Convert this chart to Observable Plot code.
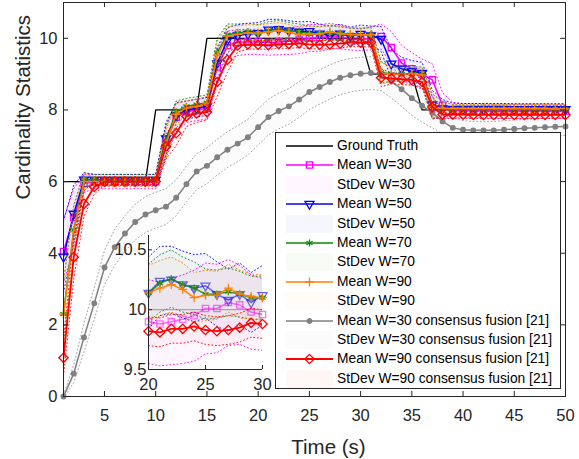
<!DOCTYPE html>
<html><head><meta charset="utf-8">
<script src="https://cdn.jsdelivr.net/npm/d3@7"></script>
<script src="https://cdn.jsdelivr.net/npm/@observablehq/plot@0.6"></script>
<style>
body{margin:0;background:#fff;}
#wrap{position:relative;width:579px;height:459px;font-family:"Liberation Sans",Arial,Helvetica,sans-serif;overflow:hidden;}
#wrap > *{position:absolute;}
</style></head><body><div id="wrap"></div>
<script>
// ---------------- data ----------------
const time = [1,2,3,4,5,6,7,8,9,10,11,12,13,14,15,16,17,18,19,20,21,22,23,24,25,26,27,28,29,30,31,32,33,34,35,36,37,38,39,40,41,42,43,44,45,46,47,48,49,50];
const groundTruth = [6,6,6,6,6,6,6,6,6,8,8,8,8,8,10,10,10,10,10,10,10,10,10,10,10,10,10,10,10,10,9,9,9,9,9,8,8,8,8,8,8,8,8,8,8,8,8,8,8,8];
const meanW30 = [4.05,5.0,5.95,6.0,6.0,6.0,6.0,6.0,6.0,6.0, 7.1,7.8,7.95,8.0,8.05,9.2,9.8,9.88,9.9,9.9, 9.88,9.9,9.92,9.95,10.01,10.01,10.06,10.04,9.98,9.96, 10.0,10.05,9.74,9.31,9.15,9.0,8.84,8.13,7.99,7.98, 7.98,7.98,7.97,7.97,7.97,7.97,7.97,7.97,7.97,7.97];
const stdW30 = [0.9,0.8,0.25,0.2,0.2,0.2,0.2,0.2,0.2,0.2, 0.45,0.4,0.3,0.3,0.3,0.5,0.4,0.36,0.35,0.35, 0.35,0.36,0.37,0.38,0.38,0.37,0.36,0.33,0.31,0.3, 0.32,0.35,0.45,0.5,0.45,0.42,0.45,0.35,0.22,0.2, 0.2,0.2,0.2,0.2,0.2,0.2,0.2,0.2,0.2,0.2];
const meanW50 = [3.9,5.1,6.05,6.05,6.05,6.05,6.05,6.05,6.05,6.05, 7.2,7.85,8.0,8.05,8.1,9.3,9.95,10.08,10.12,10.14, 10.24,10.25,10.21,10.18,10.2,10.13,10.08,10.13,10.06,10.12, 10.08,9.98,9.29,9.15,9.08,9.03,8.15,8.04,8.03,8.03, 8.03,8.03,8.03,8.03,8.02,8.02,8.02,8.02,8.02,8.02];
const stdW50 = [1.0,0.8,0.2,0.15,0.15,0.15,0.15,0.15,0.15,0.15, 0.45,0.35,0.25,0.25,0.25,0.45,0.35,0.3,0.3,0.3, 0.29,0.28,0.28,0.28,0.27,0.27,0.26,0.26,0.25,0.25, 0.26,0.35,0.4,0.32,0.3,0.3,0.4,0.25,0.16,0.15, 0.15,0.15,0.15,0.15,0.15,0.15,0.15,0.15,0.15,0.15];
const meanW70 = [2.3,4.65,6.05,6.05,6.05,6.05,6.05,6.05,6.05,6.05, 7.15,7.95,8.1,8.15,8.2,9.6,10.1,10.15,10.18,10.14, 10.22,10.26,10.21,10.18,10.13,10.13,10.15,10.13,10.1,10.1, 10.1,9.05,9.0,9.0,9.0,9.0,8.1,8.03,8.02,8.02, 8.02,8.02,8.02,8.02,8.02,8.02,8.01,8.01,8.01,8.01];
const stdW70 = [0.9,0.7,0.2,0.15,0.15,0.15,0.15,0.15,0.15,0.15, 0.4,0.3,0.22,0.22,0.22,0.4,0.3,0.25,0.24,0.24, 0.24,0.24,0.23,0.22,0.21,0.2,0.2,0.19,0.18,0.18, 0.2,0.3,0.2,0.2,0.2,0.2,0.35,0.2,0.13,0.12, 0.12,0.12,0.12,0.12,0.12,0.12,0.12,0.12,0.12,0.12];
const meanW90 = [2.3,4.6,6.0,6.0,6.0,6.0,6.0,6.0,6.0,6.0, 7.05,7.88,8.06,8.1,8.18,9.52,10.06,10.11,10.15,10.14, 10.18,10.21,10.17,10.1,10.12,10.12,10.18,10.13,10.11,10.1, 10.1,9.02,9.0,9.0,9.0,8.98,8.1,8.04,8.04,8.04, 8.04,8.04,8.04,8.04,8.04,8.04,8.04,8.04,8.03,8.03];
const stdW90 = [0.9,0.7,0.2,0.14,0.14,0.14,0.14,0.14,0.14,0.14, 0.4,0.3,0.2,0.2,0.2,0.4,0.28,0.24,0.23,0.23, 0.23,0.23,0.22,0.21,0.21,0.2,0.2,0.2,0.19,0.19, 0.2,0.3,0.2,0.18,0.18,0.18,0.35,0.18,0.12,0.12, 0.12,0.12,0.12,0.12,0.12,0.12,0.12,0.12,0.12,0.12];
const meanC30 = [0,0.64,1.65,2.6,3.6,4.17,4.55,4.87,5.08,5.2, 5.3,5.55,5.93,6.28,6.44,6.68,6.89,7.06,7.24,7.52, 7.8,7.97,8.1,8.29,8.5,8.64,8.78,8.9,8.97,9.01, 9.03,9.0,8.8,8.58,8.33,8.12,7.92,7.68,7.5,7.45, 7.43,7.43,7.43,7.45,7.47,7.49,7.5,7.52,7.53,7.54];
const stdC30 = [0.05,0.25,0.4,0.45,0.48,0.5,0.5,0.5,0.5,0.5, 0.5,0.5,0.5,0.5,0.5,0.5,0.5,0.5,0.5,0.5, 0.5,0.5,0.5,0.5,0.49,0.48,0.48,0.47,0.47,0.46, 0.46,0.46,0.47,0.48,0.48,0.46,0.42,0.35,0.28,0.25, 0.25,0.25,0.25,0.25,0.25,0.25,0.25,0.25,0.25,0.25];
const meanC90 = [1.08,3.89,5.38,5.85,6.0,6.0,6.0,6.0,6.0,6.0, 6.98,7.35,7.82,7.9,7.94,8.78,9.4,9.8,9.83,9.82, 9.81,9.84,9.84,9.86,9.83,9.82,9.83,9.85,9.89,9.88, 9.88,8.9,8.88,8.86,8.84,8.78,8.08,7.87,7.87,7.87, 7.86,7.86,7.86,7.86,7.86,7.86,7.86,7.86,7.86,7.86];
const stdC90 = [0.5,0.6,0.35,0.2,0.1,0.08,0.08,0.08,0.08,0.08, 0.35,0.35,0.28,0.25,0.22,0.4,0.35,0.18,0.13,0.12, 0.12,0.12,0.12,0.12,0.12,0.12,0.12,0.12,0.12,0.12, 0.12,0.25,0.15,0.15,0.15,0.15,0.3,0.12,0.1,0.1, 0.1,0.1,0.1,0.1,0.1,0.1,0.1,0.1,0.1,0.1];

const xTicks = [5,10,15,20,25,30,35,40,45,50];
const yTicks = [0,2,4,6,8,10];
const insetXTicks = [20,25,30];
const insetYTicks = [9.5,10,10.5];
const xLabel = "Time (s)";
const yLabel = "Cardinality Statistics";
const gtLabel = "Ground Truth";
const seriesNames = ["W=30","W=50","W=70","W=90","W=30 consensus fusion [21]","W=90 consensus fusion [21]"];

// ---------------- styling ----------------
const AX = "#262626";
const FONT = '"Liberation Sans", Arial, Helvetica, sans-serif';
const FILL_OP = 0.035;
const triangleDown = {draw(ctx, size){const s=Math.sqrt(size)*0.6824,t=s/2,u=s*Math.sqrt(3)/2;ctx.moveTo(0,s);ctx.lineTo(u,-t);ctx.lineTo(-u,-t);ctx.closePath();}};
const series = [
  {key:"w30", mean:meanW30, std:stdW30, color:"#ff00ff", symbol:d3.symbolSquare2, r:4.0, filled:false, sw:1.5, inOp:0.55},
  {key:"w50", mean:meanW50, std:stdW50, color:"#0000ff", symbol:triangleDown, r:4.3, filled:false, sw:1.5, inOp:0.6},
  {key:"w70", mean:meanW70, std:stdW70, color:"#0a8a0a", symbol:d3.symbolAsterisk, r:3.4, filled:false, sw:1.5, inOp:0.85},
  {key:"w90", mean:meanW90, std:stdW90, color:"#ff8000", symbol:d3.symbolPlus, r:3.0, filled:false, sw:1.5, inOp:0.95},
  {key:"c30", mean:meanC30, std:stdC30, color:"#808080", symbol:d3.symbolCircle, r:2.3, filled:true, sw:1.5, inOp:1},
  {key:"c90", mean:meanC90, std:stdC90, color:"#ff0000", symbol:d3.symbolDiamond2, r:4.2, filled:false, sw:1.8, inOp:1}
];
series.forEach((s,i)=>s.name=seriesNames[i]);

const rows = time.map((t,i)=>{
  const o = {t, gt: groundTruth[i]};
  series.forEach(s=>{o[s.key]=s.mean[i]; o[s.key+"_lo"]=s.mean[i]-s.std[i]; o[s.key+"_hi"]=s.mean[i]+s.std[i];});
  return o;
});

function seriesMarks(data, s, inset, yDom){
  const op = inset ? s.inOp : 1;
  const dotData = data.filter(d=>d[s.key]>=yDom[0] && d[s.key]<=yDom[1]);
  return [
    Plot.line(data, {x:"t", y:s.key, stroke:s.color, strokeWidth:s.sw, strokeOpacity:op, clip:true}),
    Plot.dot(dotData, {x:"t", y:s.key, symbol:s.symbol, r:s.r, stroke:s.color, strokeOpacity:op, fill: s.filled ? s.color : "none", fillOpacity: op, strokeWidth:1.3}),
    Plot.areaY(data, {x:"t", y1:s.key+"_lo", y2:s.key+"_hi", fill:s.color, fillOpacity:FILL_OP, clip:true}),
    Plot.line(data, {x:"t", y:s.key+"_hi", stroke:s.color, strokeWidth:1, strokeDasharray:"1,2.6", strokeOpacity:s.key==="c30"?0.7:0.9, clip:true}),
    Plot.line(data, {x:"t", y:s.key+"_lo", stroke:s.color, strokeWidth:1, strokeDasharray:"1,2.6", strokeOpacity:s.key==="c30"?0.7:0.9, clip:true})
  ];
}

// ---------------- main chart ----------------
const W = 579, H = 459, mL = 63, mR = 14, mT = 2, mB = 63;
const xDom = [1,50], yDom = [0,11];
const pxX = (xDom[1]-xDom[0])/(W-mL-mR), pxY = (yDom[1]-yDom[0])/(H-mT-mB);
const tk = 5;
const main = Plot.plot({
  width:W, height:H, marginLeft:mL, marginRight:mR, marginTop:mT, marginBottom:mB,
  x:{domain:xDom}, y:{domain:yDom},
  style:{fontFamily:FONT, fontSize:"16.5px", color:AX, background:"transparent", overflow:"visible"},
  marks:[
    Plot.line(rows, {x:"t", y:"gt", stroke:"#000", strokeWidth:1.3}),
    ...series.flatMap(s=>seriesMarks(rows, s, false, yDom)),
    Plot.frame({stroke:AX, strokeWidth:1}),
    Plot.ruleX(xTicks, {x:d=>d, y1:yDom[0], y2:yDom[0]+tk*pxY, stroke:AX}),
    Plot.ruleX(xTicks, {x:d=>d, y1:yDom[1]-tk*pxY, y2:yDom[1], stroke:AX}),
    Plot.ruleY(yTicks, {y:d=>d, x1:xDom[0], x2:xDom[0]+tk*pxX, stroke:AX}),
    Plot.ruleY(yTicks, {y:d=>d, x1:xDom[1]-tk*pxX, x2:xDom[1], stroke:AX}),
    Plot.axisX(xTicks, {tickSize:0, tickPadding:13, label:null, fill:AX, tickFormat:d=>String(d)}),
    Plot.axisY(yTicks, {tickSize:0, tickPadding:6, label:null, fill:AX, tickFormat:d=>String(d)}),
    Plot.text([xLabel], {text:d=>d, frameAnchor:"bottom", dy:51, dx:14, fontSize:20.5, fill:AX, lineAnchor:"middle"}),
    Plot.text([yLabel], {text:d=>d, frameAnchor:"left", dx:-40.5, rotate:-90, fontSize:20.5, fill:AX, lineAnchor:"middle"})
  ]
});
main.style.left = "0px"; main.style.top = "0px";
document.getElementById("wrap").appendChild(main);

// ---------------- inset ----------------
const iL = 40, iR = 8, iT = 4, iB = 26;
const iFrame = {x0:148, x1:262, y0:235, y1:369};
const iW = iL + (iFrame.x1-iFrame.x0) + iR, iH = iT + (iFrame.y1-iFrame.y0) + iB;
const ixDom = [20,30], iyDom = [9.5,10.62];
const ipxX = (ixDom[1]-ixDom[0])/(iFrame.x1-iFrame.x0), ipxY = (iyDom[1]-iyDom[0])/(iFrame.y1-iFrame.y0);
const insetRows = rows.filter(d=>d.t>=ixDom[0] && d.t<=ixDom[1]);
const inset = Plot.plot({
  width:iW, height:iH, marginLeft:iL, marginRight:iR, marginTop:iT, marginBottom:iB,
  x:{domain:ixDom}, y:{domain:iyDom},
  style:{fontFamily:FONT, fontSize:"16.5px", color:AX, background:"transparent", overflow:"visible"},
  marks:[
    Plot.frame({fill:"#fff", stroke:null}),
    Plot.line(insetRows, {x:"t", y:"gt", stroke:"#000", strokeWidth:1.3, strokeOpacity:0.3, clip:true}),
    ...series.flatMap(s=>seriesMarks(insetRows, s, true, iyDom)),
    Plot.ruleX([ixDom[0]], {stroke:AX}),
    Plot.ruleY([iyDom[0]], {stroke:AX}),
    Plot.ruleX(insetXTicks, {x:d=>d, y1:iyDom[0], y2:iyDom[0]+4*ipxY, stroke:AX}),
    Plot.ruleY(insetYTicks, {y:d=>d, x1:ixDom[0], x2:ixDom[0]+4*ipxX, stroke:AX}),
    Plot.axisX(insetXTicks, {tickSize:0, tickPadding:9, label:null, fill:AX, tickFormat:d=>String(d)}),
    Plot.axisY(insetYTicks, {tickSize:0, tickPadding:2, label:null, fill:AX, tickFormat:d=>String(d)})
  ]
});
inset.style.left = (iFrame.x0 - iL) + "px"; inset.style.top = (iFrame.y0 - iT) + "px";
document.getElementById("wrap").appendChild(inset);

// ---------------- legend ----------------
const entries = [{label:gtLabel, type:"line", color:"#000", sw:1.3}];
series.forEach(s=>{
  entries.push({label:"Mean "+s.name, type:"line", color:s.color, sw:s.sw, symbol:s.symbol, r:s.r, filled:s.filled});
  entries.push({label:"StDev "+s.name, type:"fill", color:s.color});
});
const lg = document.createElement("div");
lg.style.cssText = "left:275px;top:132px;width:286px;height:257px;border:1px solid "+AX+";background:#fff;box-sizing:border-box;";
entries.forEach((e,i)=>{
  const cy = 13 + 19.4*i;
  const svg = d3.create("svg").attr("width",60).attr("height",20)
    .style("position","absolute").style("left","0px").style("top",(cy-10)+"px");
  if (e.type==="line") {
    svg.append("line").attr("x1",10).attr("x2",57).attr("y1",10).attr("y2",10)
      .attr("stroke",e.color).attr("stroke-width",e.sw);
    if (e.symbol) svg.append("path").attr("transform","translate(33.5,10)")
      .attr("d", d3.symbol(e.symbol, Math.PI*e.r*e.r)())
      .attr("stroke",e.color).attr("stroke-width",1.3).attr("fill", e.filled?e.color:"none");
  } else {
    svg.append("rect").attr("x",10).attr("y",1).attr("width",47).attr("height",18)
      .attr("fill",e.color).attr("fill-opacity",FILL_OP);
  }
  lg.appendChild(svg.node());
  const tx = document.createElement("div");
  tx.textContent = e.label;
  tx.style.cssText = "position:absolute;left:61px;top:"+(cy-9)+"px;height:18px;line-height:18px;font-size:13.8px;color:#000;white-space:nowrap;";
  lg.appendChild(tx);
});
document.getElementById("wrap").appendChild(lg);
</script></body></html>
